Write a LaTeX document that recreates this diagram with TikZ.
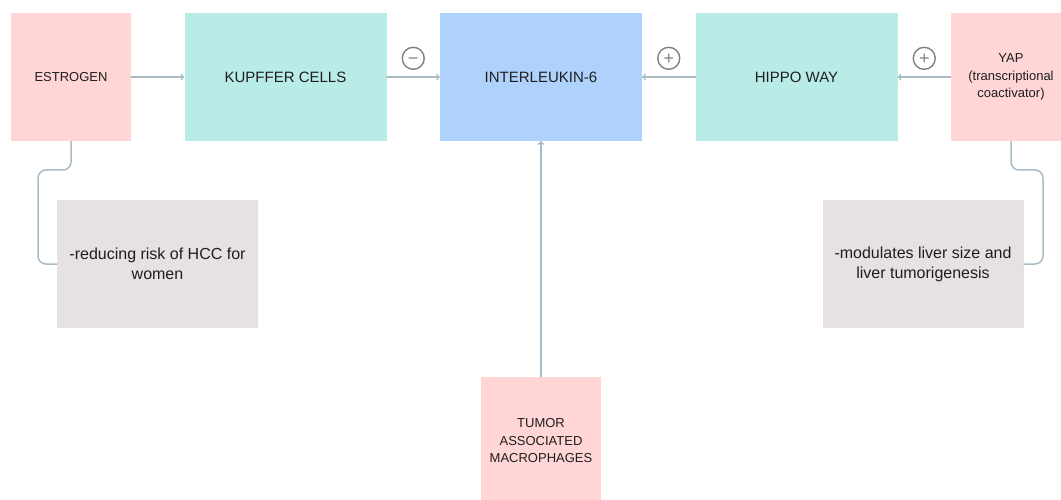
\documentclass[tikz,border=0pt]{standalone}
\usepackage{fontspec}
\setmainfont{Liberation Sans}
\usetikzlibrary{positioning}
\definecolor{pinkbox}{HTML}{FFD5D5}
\definecolor{tealbox}{HTML}{B9ECE6}
\definecolor{bluebox}{HTML}{AED2FB}
\definecolor{greybox}{HTML}{E7E2E2}
\definecolor{linkcol}{HTML}{A9BCC6}
\definecolor{signcol}{HTML}{808080}
\definecolor{txtcol}{HTML}{1E1E1E}

\begin{document}
\begin{tikzpicture}[x=1pt,y=1pt,->,>=to,node distance=53.5pt,
		line width=1.5pt]
		\tikzstyle{box}=[draw=none,outer sep=0pt,minimum height=128pt,inner sep=2pt,align=center,text=txtcol]
		\tikzstyle{small}=[box,fill=pinkbox,minimum width=120pt,font=\fontsize{13}{17.5}\selectfont]
		\tikzstyle{big}=[box,minimum width=202pt,font=\fontsize{15}{18}\selectfont]
		\tikzstyle{note}=[box,fill=greybox,minimum width=201pt,font=\fontsize{16}{20}\selectfont]
		\tikzstyle{sign}=[circle,draw=signcol,line width=1.4pt,minimum size=22pt,inner sep=0pt,
			text=signcol,text height=12.6pt,text depth=0pt,font=\fontsize{18}{18}\selectfont]
		\tikzstyle{link}=[draw=linkcol]
		
		\useasboundingbox (0,0) rectangle (1061,-500);
		
		\node[small] (estrogen) at (71,-77)            {ESTROGEN};
		\node[big,fill=tealbox] (kupffer) [right=of estrogen]   {KUPFFER CELLS};
		\node[big,fill=bluebox] (il6) [right=of kupffer]        {INTERLEUKIN-6};
		\node[big,fill=tealbox] (hippo) [right=of il6]          {HIPPO WAY};
		\node[small] (yap) [right=of hippo]    {YAP\\(transcriptional\\coactivator)};
		\node[small] (tam) [below=236pt of il6]    {TUMOR\\ASSOCIATED\\MACROPHAGES};
		
		\node[note] (risk) at (157.5,-264)     {-reducing risk of HCC for\\women};
		\node[note] (liver) at (923,-264)      {-modulates liver size and\\liver tumorigenesis};
		
		% arrows into interleukin-6
		\draw[link] (estrogen) -- (kupffer);
		\draw[link] (kupffer) -- node[sign,above=7pt] {−} (il6);
		\draw[link] (hippo) -- node[sign,above=7pt] {+} (il6);
		\draw[link] (yap) -- node[sign,above=7pt] {+} (hippo);
		\draw[link] (tam) -- (il6);
		
		% side notes
		\draw[link,-,rounded corners=8pt] (estrogen.south) -- ++(0,-29) -- ++(-33,0) |- (risk.west);
		\draw[link,-,rounded corners=8pt] (yap.south) -- ++(0,-29) -- ++(32,0) |- (liver.east);
		\end{tikzpicture}
\end{document}
